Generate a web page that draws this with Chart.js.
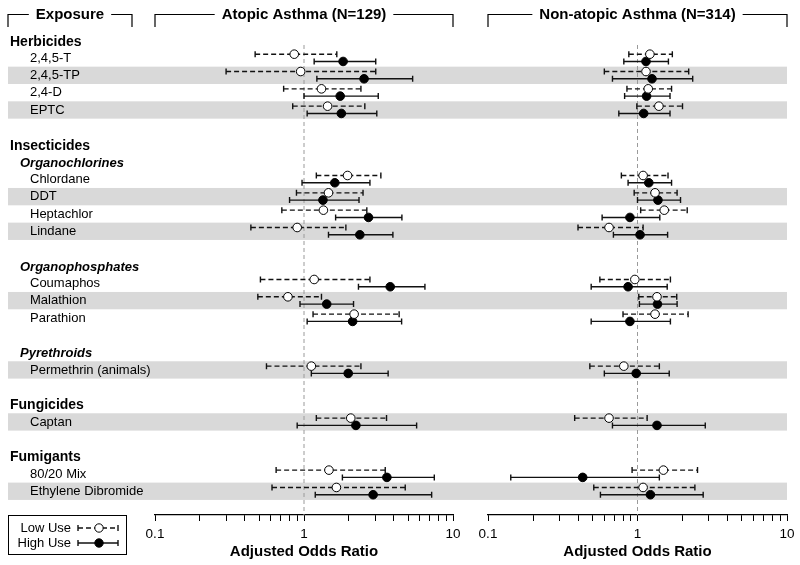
<!DOCTYPE html>
<html>
<head>
<meta charset="utf-8">
<script src="https://cdn.jsdelivr.net/npm/chart.js@4.4.0/dist/chart.umd.min.js"></script>
<style>
  body { margin: 0; background: #fff; }
  #wrap { position: relative; width: 800px; height: 565px; }
  #wrap canvas { position: absolute; left: 0; top: 0; }
</style>
</head>
<body>
<div id="wrap">
  <canvas id="atopic" width="800" height="565"></canvas>
  <canvas id="nonatopic" width="800" height="565"></canvas>
</div>
<script>
// Rows of the table, top to bottom
const rowLabels = ['Herbicides', '2,4,5-T', '2,4,5-TP', '2,4-D', 'EPTC', '',
    'Insecticides', 'Organochlorines', 'Chlordane', 'DDT', 'Heptachlor', 'Lindane', '',
    'Organophosphates', 'Coumaphos', 'Malathion', 'Parathion', '',
    'Pyrethroids', 'Permethrin (animals)', '',
    'Fungicides', 'Captan', '',
    'Fumigants', '80/20 Mix', 'Ethylene Dibromide'];
const rowKinds = ['head', 'item', 'item', 'item', 'item', 'gap',
    'head', 'sub', 'item', 'item', 'item', 'item', 'gap',
    'sub', 'item', 'item', 'item', 'gap',
    'sub', 'item', 'gap',
    'head', 'item', 'gap',
    'head', 'item', 'item'];
const shadedRows = [2, 4, 9, 11, 15, 19, 22, 26];

// [odds ratio, lower CI, upper CI] for each exposure row
const atopicLow = [
    [0.86, 0.47, 1.66], [0.95, 0.30, 3.03], [1.31, 0.73, 2.41], [1.44, 0.84, 2.56],
    [1.96, 1.21, 3.28], [1.46, 0.89, 2.49], [1.35, 0.71, 2.64], [0.90, 0.44, 1.91],
    [1.17, 0.51, 2.77], [0.78, 0.49, 1.31], [2.17, 1.15, 4.35],
    [1.12, 0.56, 2.41],
    [2.06, 1.21, 3.58],
    [1.47, 0.65, 3.51], [1.65, 0.61, 4.78]
];
const atopicHigh = [
    [1.83, 1.17, 3.03], [2.53, 1.22, 5.36], [1.75, 1.00, 3.15], [1.78, 1.05, 3.08],
    [1.61, 0.97, 2.77], [1.34, 0.80, 2.34], [2.71, 1.63, 4.54], [2.37, 1.46, 3.95],
    [3.79, 2.32, 6.48], [1.42, 0.94, 2.15], [2.12, 1.05, 4.52],
    [1.98, 1.12, 3.67],
    [2.23, 0.90, 5.70],
    [3.60, 1.81, 7.49], [2.91, 1.19, 7.19]
];
const nonAtopicLow = [
    [1.21, 0.875, 1.71], [1.14, 0.60, 2.20], [1.18, 0.85, 1.69], [1.39, 0.99, 2.00],
    [1.09, 0.78, 1.60], [1.31, 0.95, 1.84], [1.51, 1.05, 2.15], [0.645, 0.40, 1.09],
    [0.96, 0.56, 1.66], [1.35, 1.02, 1.83], [1.31, 0.80, 2.18],
    [0.81, 0.48, 1.40],
    [0.645, 0.38, 1.16],
    [1.49, 0.92, 2.52], [1.09, 0.51, 2.42]
];
const nonAtopicHigh = [
    [1.14, 0.81, 1.61], [1.25, 0.68, 2.34], [1.15, 0.82, 1.65], [1.10, 0.75, 1.65],
    [1.19, 0.865, 1.69], [1.37, 1.00, 1.94], [0.89, 0.58, 1.41], [1.04, 0.69, 1.59],
    [0.865, 0.49, 1.58], [1.36, 1.03, 1.84], [0.89, 0.49, 1.66],
    [0.98, 0.60, 1.63],
    [1.35, 0.68, 2.84],
    [0.43, 0.142, 1.40], [1.22, 0.565, 2.75]
];

const tickValues = [0.1, 0.2, 0.3, 0.4, 0.5, 0.6, 0.7, 0.8, 0.9, 1, 2, 3, 4, 5, 6, 7, 8, 9, 10];
const tickLabels = [0.1, 1, 10];

const FONT = '"Liberation Sans", Arial, sans-serif';
const itemRows = rowKinds.map((k, i) => k === 'item' ? i : -1).filter(i => i >= 0);

function toPoints(arr, shift) {
    return arr.map((d, i) => ({ x: d[0], y: itemRows[i] + 0.5 + shift, lo: d[1], hi: d[2] }));
}

// bracket header above a panel
function drawBracket(ctx, left, right, text) {
    ctx.save();
    ctx.font = 'bold 15px ' + FONT;
    ctx.fillStyle = '#000';
    ctx.strokeStyle = '#000';
    ctx.lineWidth = 1.2;
    const mid = (left + right) / 2;
    const w = ctx.measureText(text).width;
    ctx.textAlign = 'center';
    ctx.textBaseline = 'middle';
    ctx.fillText(text, mid, 15);
    ctx.beginPath();
    ctx.moveTo(left, 27); ctx.lineTo(left, 14.5); ctx.lineTo(mid - w / 2 - 7, 14.5);
    ctx.moveTo(mid + w / 2 + 7, 14.5); ctx.lineTo(right, 14.5); ctx.lineTo(right, 27);
    ctx.stroke();
    ctx.restore();
}

function drawErrorBar(ctx, x1, x2, y, dashed) {
    ctx.beginPath();
    ctx.setLineDash(dashed ? [5, 3] : []);
    ctx.moveTo(x1, y); ctx.lineTo(x2, y);
    ctx.stroke();
    ctx.setLineDash([]);
    ctx.beginPath();
    ctx.moveTo(x1, y - 3); ctx.lineTo(x1, y + 3);
    ctx.moveTo(x2, y - 3); ctx.lineTo(x2, y + 3);
    ctx.stroke();
}

const forestPlugin = {
    id: 'forest',
    beforeDraw(chart, args, opts) {
        if (!opts.sideColumn) return;
        const ctx = chart.ctx;
        const y = chart.scales.y;
        const rowH = Math.abs(y.getPixelForValue(1) - y.getPixelForValue(0));
        ctx.save();
        // shaded bands
        ctx.fillStyle = '#d9d9d9';
        shadedRows.forEach(r => {
            ctx.fillRect(8, y.getPixelForValue(r), 779, rowH);
        });
        // row labels
        ctx.fillStyle = '#000';
        ctx.textBaseline = 'middle';
        ctx.textAlign = 'left';
        rowLabels.forEach((lab, r) => {
            const k = rowKinds[r];
            if (k === 'gap') return;
            const cy = y.getPixelForValue(r + 0.5);
            if (k === 'head') { ctx.font = 'bold 14px ' + FONT; ctx.fillText(lab, 10, cy + 1); }
            else if (k === 'sub') { ctx.font = 'italic bold 13px ' + FONT; ctx.fillText(lab, 20, cy + 1); }
            else { ctx.font = '13px ' + FONT; ctx.fillText(lab, 30, cy); }
        });
        ctx.restore();
        drawBracket(ctx, 8, 132, 'Exposure');

        // legend box
        ctx.save();
        ctx.strokeStyle = '#000';
        ctx.lineWidth = 1;
        ctx.strokeRect(8.5, 515.5, 118, 39);
        ctx.font = '13px ' + FONT;
        ctx.textAlign = 'right';
        ctx.textBaseline = 'middle';
        const entries = [['Low Use', 528, true], ['High Use', 543, false]];
        entries.forEach(([txt, ly, dashed]) => {
            ctx.fillStyle = '#000';
            ctx.fillText(txt, 71, ly);
            ctx.strokeStyle = '#111';
            ctx.lineWidth = 1.4;
            drawErrorBar(ctx, 78, 118, ly, dashed);
            ctx.beginPath();
            ctx.arc(99, ly, 4.2, 0, Math.PI * 2);
            ctx.fillStyle = dashed ? '#fff' : '#000';
            ctx.fill();
            ctx.lineWidth = 1;
            ctx.strokeStyle = '#000';
            ctx.stroke();
        });
        ctx.restore();
    },
    beforeDatasetsDraw(chart) {
        const ctx = chart.ctx;
        const x = chart.scales.x;
        const y = chart.scales.y;
        const area = chart.chartArea;
        ctx.save();
        // reference line at OR = 1
        const x1 = x.getPixelForValue(1);
        ctx.strokeStyle = '#9a9a9a';
        ctx.lineWidth = 1;
        ctx.setLineDash([4, 3]);
        ctx.beginPath();
        ctx.moveTo(x1, y.getPixelForValue(0.75));
        ctx.lineTo(x1, area.bottom);
        ctx.stroke();
        ctx.setLineDash([]);
        // error bars
        ctx.strokeStyle = '#111';
        ctx.lineWidth = 1.4;
        chart.data.datasets.forEach(ds => {
            ds.data.forEach(p => {
                drawErrorBar(ctx, x.getPixelForValue(p.lo), x.getPixelForValue(p.hi), y.getPixelForValue(p.y), ds.dashed);
            });
        });
        ctx.restore();
    },
    afterDraw(chart, args, opts) {
        const a = chart.chartArea;
        drawBracket(chart.ctx, a.left, a.right, opts.title);
    }
};

function makePanel(id, low, high, title, padLeft, padRight, sideColumn) {
    return new Chart(document.getElementById(id), {
        type: 'scatter',
        data: {
            datasets: [
                {
                    label: 'Low Use', dashed: true, data: toPoints(low, -0.22),
                    pointRadius: 4.3, pointHoverRadius: 4.3, pointBackgroundColor: '#fff',
                    pointBorderColor: '#000', pointBorderWidth: 1
                },
                {
                    label: 'High Use', dashed: false, data: toPoints(high, 0.2),
                    pointRadius: 4.3, pointHoverRadius: 4.3, pointBackgroundColor: '#000',
                    pointBorderColor: '#000', pointBorderWidth: 1
                }
            ]
        },
        options: {
            responsive: false,
            animation: false,
            events: [],
            layout: { padding: { left: padLeft, right: padRight, top: 32, bottom: 0 } },
            plugins: {
                legend: { display: false },
                tooltip: { enabled: false },
                forest: { title: title, sideColumn: sideColumn }
            },
            scales: {
                x: {
                    type: 'logarithmic',
                    min: 0.1,
                    max: 10,
                    afterBuildTicks: s => { s.ticks = tickValues.map(v => ({ value: v })); },
                    afterFit: s => { s.height = 50; },
                    grid: { drawOnChartArea: false, tickLength: 6, color: '#000', lineWidth: 1 },
                    border: { color: '#000', width: 1.2 },
                    ticks: {
                        autoSkip: false, maxRotation: 0, padding: 5, color: '#000',
                        font: { family: FONT, size: 13.5 },
                        callback: v => tickLabels.includes(v) ? String(v) : ''
                    },
                    title: {
                        display: true, text: 'Adjusted Odds Ratio', color: '#000',
                        font: { family: FONT, size: 15, weight: 'bold' },
                        padding: { top: 0, bottom: 4 }
                    }
                },
                y: {
                    type: 'linear',
                    reverse: true,
                    min: 0,
                    max: 27.87,
                    display: false
                }
            }
        },
        plugins: [forestPlugin]
    });
}

makePanel('atopic', atopicLow, atopicHigh, 'Atopic Asthma (N=129)', 155, 347, true);
makePanel('nonatopic', nonAtopicLow, nonAtopicHigh, 'Non-atopic Asthma (N=314)', 488, 13, false);
</script>
</body>
</html>
